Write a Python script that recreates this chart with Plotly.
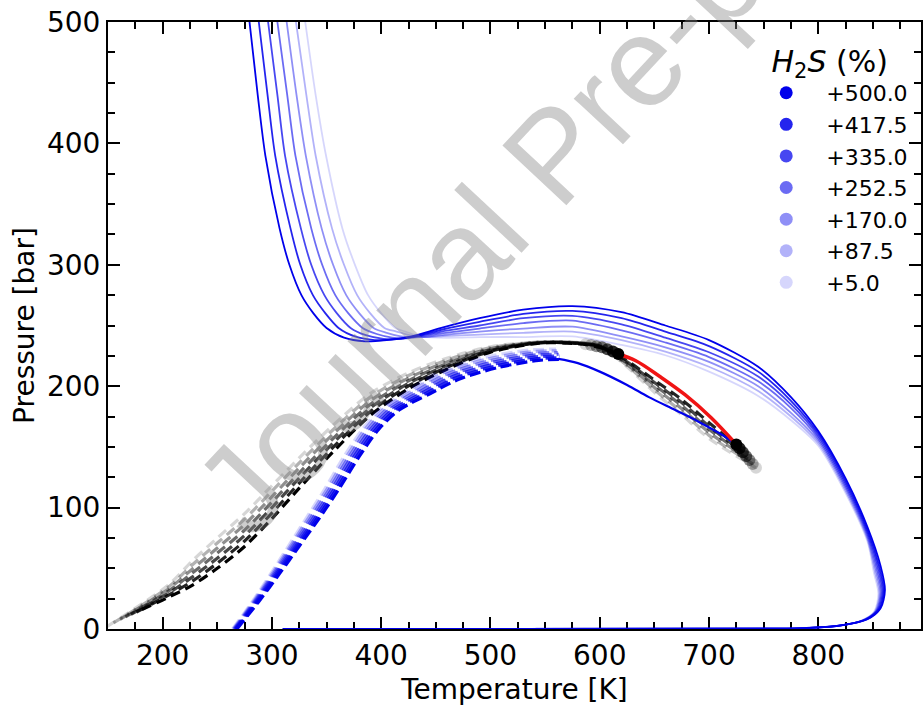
import plotly.graph_objects as go

# H2S excess cases (legend labels) and their shading strength
labels = ["+500.0", "+417.5", "+335.0", "+252.5", "+170.0", "+87.5", "+5.0"]
alphas = [1.0, 0.86, 0.72, 0.58, 0.44, 0.30, 0.16]

# Phase envelopes (solid blue), temperature [K] and pressure [bar]
env_T = [
    [279.5, 287, 294, 307, 316, 327, 338, 350, 366, 385, 405, 428, 455, 490, 530, 575, 620, 660, 700, 745, 775, 800, 825, 845, 857, 861, 857, 845, 820, 790, 750, 310],
    [288, 296, 303, 317, 326, 337.5, 349, 361, 376, 394, 412, 430, 455, 490, 530, 575, 620, 660, 700, 745, 775, 800, 825, 845, 856, 860, 856, 844, 819, 789, 750, 310],
    [296.5, 305, 312, 326.5, 336, 348, 359.5, 372, 386, 402, 418, 432, 455, 490, 530, 575, 620, 660, 700, 745, 775, 800, 825, 845, 855, 859, 855, 843, 818, 788, 749, 310],
    [305, 314, 321.5, 336, 346, 358, 370, 383, 396, 410, 424, 434, 455, 490, 530, 575, 620, 660, 700, 745, 775, 800, 825, 845, 854, 858, 854, 842, 817, 787, 749, 310],
    [313.5, 322.5, 331, 345.5, 356, 368, 380, 393, 405, 418, 430, 438, 455, 490, 530, 575, 620, 660, 700, 745, 775, 800, 825, 845, 853, 857, 853, 841, 816, 786, 748, 310],
    [322, 331.5, 340, 355, 366, 378, 390, 403, 414, 426, 436, 444, 460, 490, 530, 575, 620, 660, 700, 745, 775, 800, 825, 845, 852, 856, 852, 840, 815, 785, 748, 310],
    [330.5, 340, 349.5, 364.5, 376, 388, 400, 413, 422, 432, 442, 452, 470, 490, 530, 575, 620, 660, 700, 745, 775, 800, 825, 845, 851, 855, 851, 839, 814, 784, 747, 310],
]
env_P = [
    [500, 440, 390, 330, 300, 275, 260, 248, 240, 237, 238, 241, 248, 256, 263, 266, 261, 250, 238, 216, 191, 163, 124, 84, 52, 32, 17, 8, 2.8, 0.8, 0.2, 0],
    [500, 440, 390, 330, 300, 275, 260, 248, 241, 238, 238.5, 241, 246.5, 253, 259.5, 262, 256, 245, 233, 212, 188, 161, 122, 82, 51, 31.5, 16.5, 7.8, 2.7, 0.8, 0.2, 0],
    [500, 440, 390, 330, 300, 275, 260, 248, 242, 239, 239, 241, 245, 250, 256, 258, 251, 240, 228, 208, 185, 159, 120, 80, 50, 31, 16, 7.6, 2.6, 0.8, 0.2, 0],
    [500, 440, 390, 330, 300, 275, 260, 248, 243, 240, 239.5, 241, 243.5, 247.5, 252, 254, 246, 236, 224, 204, 182, 157, 118, 78, 49, 30.5, 15.5, 7.4, 2.5, 0.8, 0.2, 0],
    [500, 440, 390, 330, 300, 275, 260, 248, 244, 241, 240, 240.5, 242, 245, 247.5, 249, 241, 232, 220, 200, 178, 155, 116, 76, 48, 30, 15, 7.2, 2.4, 0.8, 0.2, 0],
    [500, 440, 390, 330, 300, 275, 260, 248, 245, 242, 240.5, 240.5, 241.5, 242.5, 244, 245, 238, 228.5, 216, 196, 175, 153, 114, 74, 47, 29.5, 14.5, 7, 2.3, 0.8, 0.2, 0],
    [500, 440, 390, 330, 300, 275, 260, 248, 245, 242, 240.5, 240, 240, 240.5, 240.5, 241, 234, 225.5, 212, 192, 172, 151, 112, 72, 46, 29, 14, 6.8, 2.2, 0.8, 0.2, 0],
]

# Dashed black curves
blk_T = [
    [181, 205, 227, 250, 275, 300, 325, 355, 390, 425, 460, 500, 545, 580, 600, 617],
    [176, 205, 227, 250, 275, 300, 325, 355, 390, 425, 460, 500, 545, 580, 600, 625, 650, 675, 700, 728],
    [171, 205, 227, 250, 275, 300, 325, 355, 390, 425, 460, 500, 545, 580, 600, 625, 650, 675, 700, 731],
    [166, 205, 227, 250, 275, 300, 325, 355, 390, 425, 460, 500, 545, 580, 600, 625, 650, 675, 700, 734],
    [161, 205, 227, 250, 275, 300, 325, 355, 390, 425, 460, 500, 545, 580, 600, 625, 650, 675, 700, 737],
    [155, 205, 227, 250, 275, 300, 325, 355, 390, 425, 460, 500, 545, 580, 600, 625, 650, 675, 700, 740],
    [149, 205, 227, 250, 275, 300, 325, 355, 390, 425, 460, 500, 545, 580, 600, 625, 650, 675, 700, 743],
]
blk_P = [
    [16, 26, 36, 50, 68, 91, 116, 145, 176, 198, 214, 228, 235.5, 235, 232, 226.5],
    [14, 27.7, 39.3, 54.2, 72.5, 95.5, 120.2, 148.7, 179, 200.2, 215.5, 228.8, 235.7, 235.2, 232.5, 221, 205, 189, 170, 148.8],
    [12, 29.3, 42.7, 58.3, 77, 100, 124.3, 152.3, 182, 202.3, 217, 229.5, 235.8, 235.4, 233, 220, 203, 186.5, 167, 145.6],
    [10, 31, 46, 62.5, 81.5, 104.5, 128.5, 156, 185, 204.5, 218.5, 230.3, 236, 235.6, 233, 219, 201, 184, 164.5, 142.4],
    [8, 32.7, 49.3, 66.7, 86, 109, 132.7, 159.7, 188, 206.7, 220, 231, 236.2, 235.8, 233, 218, 199, 181.5, 162, 139.2],
    [5, 34.3, 52.7, 70.8, 90.5, 113.5, 136.8, 163.3, 191, 208.8, 221.5, 231.8, 236.3, 236, 233, 217, 197, 179, 159.5, 136],
    [2, 36, 56, 75, 95, 118, 141, 167, 194, 211, 223, 232.5, 236.5, 236, 233, 216, 195, 176.5, 157, 132.8],
]

# Dashed blue curves
blu_T = [
    [268, 288.6, 306.8, 325.1, 343.3, 361.6, 379.8, 398, 416.4, 443.7, 471.1, 507.6, 544.2, 565],
    [267.3, 287.6, 305.5, 323.4, 341.3, 359.4, 377.5, 395.5, 413.6, 440.5, 468.1, 505.3, 542.7, 564.2],
    [266.7, 286.6, 304.1, 321.8, 339.3, 357.3, 375.1, 393, 410.7, 437.4, 465.1, 503, 541.2, 563.3],
    [266, 285.6, 302.8, 320.1, 337.3, 355.1, 372.8, 390.5, 407.9, 434.2, 462.1, 500.6, 539.7, 562.5],
    [265.3, 284.6, 301.5, 318.4, 335.3, 352.9, 370.5, 388, 405.1, 431, 459.1, 498.3, 538.2, 561.7],
    [264.7, 283.6, 300.1, 316.8, 333.3, 350.8, 368.2, 385.5, 402.2, 427.9, 456.1, 495.9, 536.7, 560.8],
    [264, 282.6, 298.8, 315.1, 331.3, 348.6, 365.8, 383, 399.4, 424.7, 453.1, 493.6, 535.2, 560],
]
blu_P = [
    [0, 23.3, 45.4, 68.3, 91.2, 115.7, 141.9, 164.8, 180.4, 193.4, 205.7, 215.5, 221.3, 222],
    [0, 23.3, 45.4, 68.3, 91.2, 115.7, 141.9, 164.8, 180.6, 193.9, 206.7, 216.8, 222.7, 223.4],
    [0, 23.3, 45.4, 68.3, 91.2, 115.7, 141.9, 164.8, 180.7, 194.4, 207.7, 218.2, 224.1, 224.8],
    [0, 23.3, 45.4, 68.3, 91.2, 115.7, 141.9, 164.8, 180.9, 194.9, 208.7, 219.5, 225.6, 226.3],
    [0, 23.3, 45.4, 68.3, 91.2, 115.7, 141.9, 164.8, 181.1, 195.4, 209.7, 220.8, 227, 227.7],
    [0, 23.3, 45.4, 68.3, 91.2, 115.7, 141.9, 164.8, 181.2, 195.9, 210.7, 222.2, 228.4, 229.1],
    [0, 23.3, 45.4, 68.3, 91.2, 115.7, 141.9, 164.8, 181.4, 196.4, 211.7, 223.5, 229.8, 230.5],
]

# Lower solid branch of the +500 case
low_T = [562, 580, 600, 625, 645, 670, 690, 710, 725]
low_P = [222.5, 219, 212, 201, 191, 180, 171, 161, 152]

# Red segment between the two critical points
red_T = [617, 633, 655, 678, 702, 725]
red_P = [226.5, 221, 208, 193, 174, 152]

# Critical points (upper and lower)
crit_up_T = [617, 612, 607, 602, 597, 592, 587]
crit_up_P = [226.5, 228.5, 230.5, 232, 233, 234, 234.5]
crit_lo_T = [725, 728, 731, 734, 737, 740, 743]
crit_lo_P = [152, 148.8, 145.6, 142.4, 139.2, 136, 132.8]

FONT = "DejaVu Sans"


def blue(a):
    return f"rgba(0,0,235,{a})"


def black(a):
    return f"rgba(0,0,0,{a})"


fig = go.Figure()

# phase envelopes, faintest first
for i in reversed(range(7)):
    fig.add_trace(go.Scatter(
        x=env_T[i], y=env_P[i], mode="lines",
        line=dict(color=blue(alphas[i]), width=1.8, shape="spline", smoothing=0.8),
        showlegend=False, hoverinfo="skip"))

# dashed black curves
for i in reversed(range(7)):
    fig.add_trace(go.Scatter(
        x=blk_T[i], y=blk_P[i], mode="lines",
        line=dict(color=black(alphas[i]), width=3.2, dash="10px,6px", shape="spline", smoothing=0.8),
        showlegend=False, hoverinfo="skip"))

# dashed blue curves
for i in reversed(range(7)):
    fig.add_trace(go.Scatter(
        x=blu_T[i], y=blu_P[i], mode="lines",
        line=dict(color=blue(alphas[i]), width=3.2, dash="11px,5px", shape="spline", smoothing=0.8),
        showlegend=False, hoverinfo="skip"))

fig.add_trace(go.Scatter(
    x=low_T, y=low_P, mode="lines",
    line=dict(color=blue(1.0), width=2.2, shape="spline"),
    showlegend=False, hoverinfo="skip"))

fig.add_trace(go.Scatter(
    x=red_T, y=red_P, mode="lines",
    line=dict(color="rgb(240,20,20)", width=3.5, shape="spline"),
    showlegend=False, hoverinfo="skip"))

for i in reversed(range(7)):
    fig.add_trace(go.Scatter(
        x=[crit_up_T[i], crit_lo_T[i]], y=[crit_up_P[i], crit_lo_P[i]], mode="markers",
        marker=dict(color=black(alphas[i]), size=12, line=dict(width=0)),
        showlegend=False, hoverinfo="skip"))

# legend entries
for i in range(7):
    fig.add_trace(go.Scatter(
        x=[None], y=[None], mode="markers", name=labels[i],
        marker=dict(color=blue(alphas[i]), size=13)))

axis_common = dict(
    showline=True, linecolor="black", linewidth=2, mirror="ticks",
    ticks="inside", ticklen=12, tickwidth=2, tickcolor="black",
    minor=dict(ticks="inside", ticklen=7, tickwidth=1.5, tickcolor="black", dtick=25),
    showgrid=False, zeroline=False, layer="below traces",
    tickfont=dict(family=FONT, size=28, color="black"),
)

fig.update_layout(
    width=923, height=706,
    margin=dict(l=108, r=0, t=22, b=72),
    paper_bgcolor="white", plot_bgcolor="white",
    xaxis=dict(range=[150, 894], dtick=100, tick0=0,
               title=dict(text="Temperature [K]", font=dict(family=FONT, size=28, color="black")),
               **axis_common),
    yaxis=dict(range=[0, 500], dtick=100, tick0=0,
               title=dict(text="Pressure [bar]", standoff=4, font=dict(family=FONT, size=28, color="black")),
               **axis_common),
    legend=dict(
        x=0.785, y=0.982, xanchor="left", yanchor="top",
        bgcolor="rgba(0,0,0,0)", itemwidth=70,
        font=dict(family=FONT, size=22, color="black"),
        title=dict(text="<i>H</i><sub>2</sub><i>S</i> (%)", side="top center",
                   font=dict(family=FONT, size=30, color="black")),
    ),
)

fig.add_annotation(
    text="Journal Pre-proof", x=558, y=391, xref="x", yref="y",
    xanchor="center", yanchor="middle", textangle=-47, showarrow=False,
    font=dict(family="Liberation Sans", size=127, color="rgba(130,130,130,0.40)"),
)

fig.write_html("out.html")
